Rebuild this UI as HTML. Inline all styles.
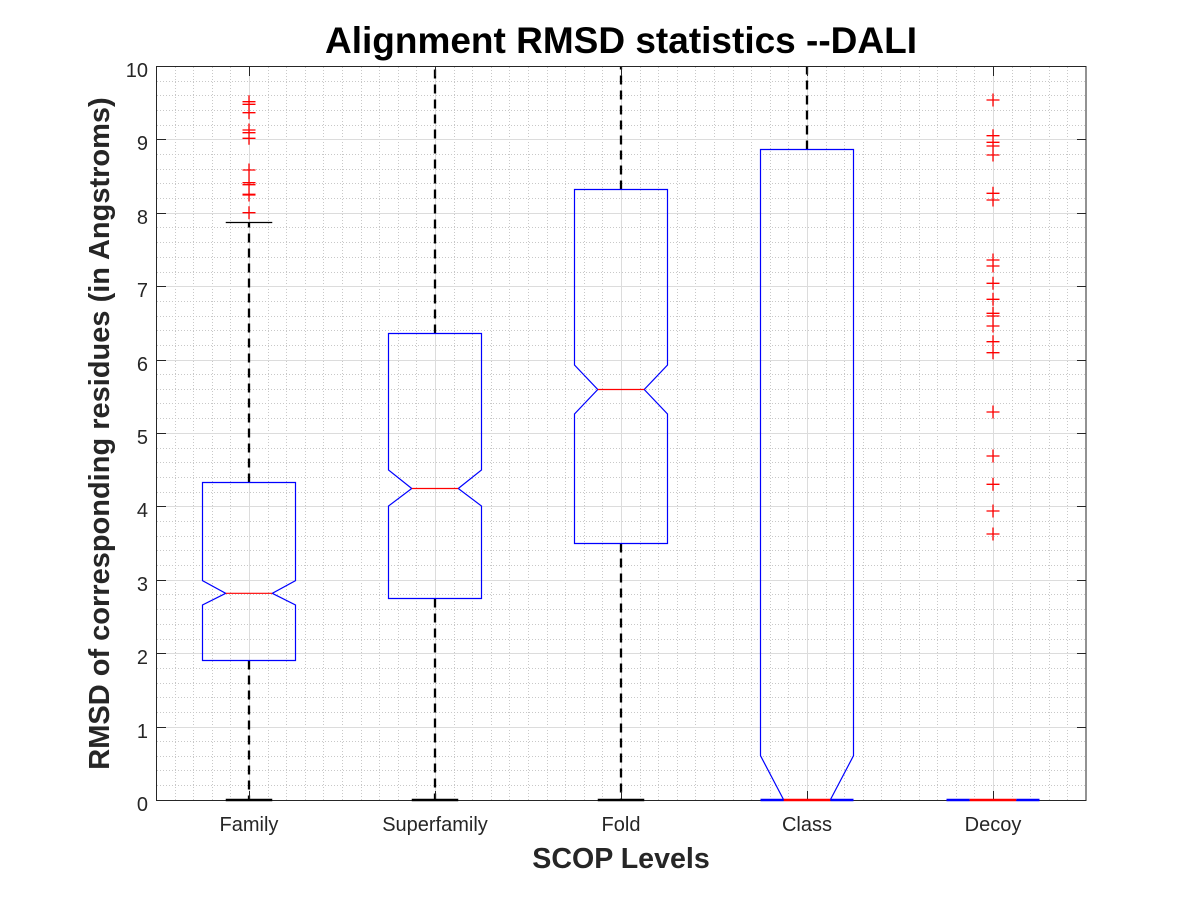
<!DOCTYPE html>
<html>
<head>
<meta charset="utf-8">
<style>
  html, body { margin:0; padding:0; background:#ffffff; }
  svg { display:block; }
  text { font-family: "Liberation Sans", Arial, sans-serif; }
</style>
</head>
<body>
<svg width="1200" height="900" viewBox="0 0 1200 900" xmlns="http://www.w3.org/2000/svg">
  <rect x="0" y="0" width="1200" height="900" fill="#ffffff"/>
  <rect x="156.5" y="66.5" width="929.5" height="734" fill="#ffffff"/>

  <!-- minor grid vertical -->
  <path stroke="#c8c8c8" stroke-width="1" stroke-dasharray="1 2" fill="none" d="
    M175.5,67 V800 M193.5,67 V800 M212.5,67 V800 M230.5,67 V800 M268.5,67 V800 M286.5,67 V800 M305.5,67 V800 M323.5,67 V800 M342.5,67 V800
    M361.5,67 V800 M379.5,67 V800 M398.5,67 V800 M416.5,67 V800 M454.5,67 V800 M472.5,67 V800 M491.5,67 V800 M509.5,67 V800 M528.5,67 V800
    M547.5,67 V800 M565.5,67 V800 M584.5,67 V800 M602.5,67 V800 M640.5,67 V800 M658.5,67 V800 M677.5,67 V800 M695.5,67 V800 M714.5,67 V800
    M733.5,67 V800 M751.5,67 V800 M770.5,67 V800 M788.5,67 V800 M826.5,67 V800 M844.5,67 V800 M863.5,67 V800 M881.5,67 V800 M900.5,67 V800
    M919.5,67 V800 M937.5,67 V800 M956.5,67 V800 M974.5,67 V800 M1012.5,67 V800 M1030.5,67 V800 M1049.5,67 V800 M1067.5,67 V800"/>
  <!-- minor grid horizontal -->
  <path stroke="#c8c8c8" stroke-width="1" stroke-dasharray="1 2" fill="none" d="
    M157,785.5 H1086 M157,770.5 H1086 M157,756.5 H1086 M157,741.5 H1086
    M157,712.5 H1086 M157,697.5 H1086 M157,683.5 H1086 M157,668.5 H1086
    M157,639.5 H1086 M157,624.5 H1086 M157,609.5 H1086 M157,594.5 H1086
    M157,565.5 H1086 M157,550.5 H1086 M157,536.5 H1086 M157,521.5 H1086
    M157,492.5 H1086 M157,477.5 H1086 M157,462.5 H1086 M157,448.5 H1086
    M157,418.5 H1086 M157,403.5 H1086 M157,389.5 H1086 M157,374.5 H1086
    M157,345.5 H1086 M157,330.5 H1086 M157,316.5 H1086 M157,301.5 H1086
    M157,272.5 H1086 M157,257.5 H1086 M157,242.5 H1086 M157,227.5 H1086
    M157,198.5 H1086 M157,183.5 H1086 M157,169.5 H1086 M157,154.5 H1086
    M157,125.5 H1086 M157,110.5 H1086 M157,95.5 H1086 M157,81.5 H1086"/>
  <!-- major grid -->
  <path stroke="#dcdcdc" stroke-width="1" fill="none" d="
    M249.5,67 V800 M435.5,67 V800 M621.5,67 V800 M807.5,67 V800 M993.5,67 V800
    M157,727.5 H1086 M157,653.5 H1086 M157,580.5 H1086 M157,506.5 H1086 M157,433.5 H1086
    M157,360.5 H1086 M157,286.5 H1086 M157,213.5 H1086 M157,139.5 H1086"/>

  <!-- whiskers (dashed) -->
  <g stroke="#000000" stroke-width="2.3" stroke-dasharray="9 6" fill="none">
    <path d="M249,482.5 V222.5"/>
    <path d="M249,660.5 V800"/>
    <path d="M435,333.5 V66.5"/>
    <path d="M435,598.5 V800"/>
    <path d="M621,189.5 V66.5"/>
    <path d="M621,543.5 V800"/>
    <path d="M807,149.5 V66.5"/>
  </g>
  <!-- upper cap -->
  <path d="M225.75,222.5 H272.25" stroke="#000000" stroke-width="1.3" fill="none"/>

  <!-- boxes -->
  <g stroke="#0000ff" stroke-width="1.2" fill="none">
    <path d="M202.5,482.5 H295.5 V580.7 L272.25,593.3 L295.5,605 V660.5 H202.5 V605 L225.75,593.3 L202.5,580.7 Z"/>
    <path d="M388.5,333.5 H481.5 V470 L458.25,488.5 L481.5,506 V598.5 H388.5 V506 L411.75,488.5 L388.5,470 Z"/>
    <path d="M574.5,189.5 H667.5 V365 L644.25,389.5 L667.5,414 V543.5 H574.5 V414 L597.75,389.5 L574.5,365 Z"/>
    <path d="M783.75,800 L760.5,755.7 V149.5 H853.5 V755.7 L830.25,800"/>
  </g>
  <!-- medians -->
  <g stroke="#ff0000" stroke-width="1.2" fill="none">
    <path d="M225.75,593.3 H272.25"/>
    <path d="M411.75,488.5 H458.25"/>
    <path d="M597.75,389.5 H644.25"/>
  </g>

  <!-- outliers -->
  <g stroke="#ff0000" stroke-width="1.3" fill="none">
    <path d="
      M242.5,101.7 h13 M249,95.2 v13
      M242.5,104.3 h13 M249,97.8 v13
      M242.5,112.7 h13 M249,106.2 v13
      M242.5,130 h13 M249,123.5 v13
      M242.5,132.7 h13 M249,126.2 v13
      M242.5,138.3 h13 M249,131.8 v13
      M242.5,170 h13 M249,163.5 v13
      M242.5,182.7 h13 M249,176.2 v13
      M242.5,184.7 h13 M249,178.2 v13
      M242.5,194.3 h13 M249,187.8 v13
      M242.5,195 h13 M249,188.5 v13
      M242.5,212.7 h13 M249,206.2 v13"/>
    <path d="
      M986.5,100 h13 M993,93.5 v13
      M986.5,135.7 h13 M993,129.2 v13
      M986.5,142.3 h13 M993,135.8 v13
      M986.5,146 h13 M993,139.5 v13
      M986.5,155 h13 M993,148.5 v13
      M986.5,193.3 h13 M993,186.8 v13
      M986.5,200 h13 M993,193.5 v13
      M986.5,260 h13 M993,253.5 v13
      M986.5,266 h13 M993,259.5 v13
      M986.5,283.3 h13 M993,276.8 v13
      M986.5,299.3 h13 M993,292.8 v13
      M986.5,313.3 h13 M993,306.8 v13
      M986.5,316 h13 M993,309.5 v13
      M986.5,326 h13 M993,319.5 v13
      M986.5,341.7 h13 M993,335.2 v13
      M986.5,352.7 h13 M993,346.2 v13
      M986.5,412 h13 M993,405.5 v13
      M986.5,456 h13 M993,449.5 v13
      M986.5,484.3 h13 M993,477.8 v13
      M986.5,511 h13 M993,504.5 v13
      M986.5,534 h13 M993,527.5 v13"/>
  </g>

  <!-- axes box -->
  <rect x="156.5" y="66.5" width="929.5" height="734" fill="none" stroke="#262626" stroke-width="1"/>
  <!-- ticks -->
  <path stroke="#262626" stroke-width="1" fill="none" d="
    M157,727.5 h9 M157,653.5 h9 M157,580.5 h9 M157,506.5 h9 M157,433.5 h9 M157,360.5 h9 M157,286.5 h9 M157,213.5 h9 M157,139.5 h9
    M1086,727.5 h-9 M1086,653.5 h-9 M1086,580.5 h-9 M1086,506.5 h-9 M1086,433.5 h-9 M1086,360.5 h-9 M1086,286.5 h-9 M1086,213.5 h-9 M1086,139.5 h-9
    M249.5,800 v-9 M435.5,800 v-9 M621.5,800 v-9 M807.5,800 v-9 M993.5,800 v-9
    M249.5,67 v9 M435.5,67 v9 M621.5,67 v9 M807.5,67 v9 M993.5,67 v9"/>

  <!-- bottom lines drawn above the axis -->
  <g stroke="#000000" stroke-width="2.6" fill="none">
    <path d="M225.75,800 H272.25"/>
    <path d="M411.75,800 H458.25"/>
    <path d="M597.75,800 H644.25"/>
  </g>
  <g stroke="#0000ff" stroke-width="2.4" fill="none">
    <path d="M760.5,800 H783.75 M830.25,800 H853.5"/>
    <path d="M946.5,800 H969.75 M1016.25,800 H1039.5"/>
  </g>
  <g stroke="#ff0000" stroke-width="2.4" fill="none">
    <path d="M783.75,800 H830.25"/>
    <path d="M969.75,800 H1016.25"/>
  </g>

  <!-- y tick labels -->
  <g font-size="20" fill="#262626" text-anchor="end">
    <text x="148" y="811">0</text>
    <text x="148" y="738">1</text>
    <text x="148" y="664">2</text>
    <text x="148" y="591">3</text>
    <text x="148" y="517">4</text>
    <text x="148" y="444">5</text>
    <text x="148" y="371">6</text>
    <text x="148" y="297">7</text>
    <text x="148" y="224">8</text>
    <text x="148" y="150">9</text>
    <text x="148" y="77">10</text>
  </g>
  <!-- x tick labels -->
  <g font-size="20" fill="#262626" text-anchor="middle">
    <text x="249" y="831">Family</text>
    <text x="435" y="831">Superfamily</text>
    <text x="621" y="831">Fold</text>
    <text x="807" y="831">Class</text>
    <text x="993" y="831">Decoy</text>
  </g>

  <!-- axis labels -->
  <text x="621" y="868" font-size="28.6" font-weight="bold" fill="#262626" text-anchor="middle">SCOP Levels</text>
  <text transform="translate(109,433.5) rotate(-90)" x="0" y="0" font-size="29" font-weight="bold" fill="#262626" text-anchor="middle">RMSD of corresponding residues (in Angstroms)</text>

  <!-- title -->
  <text x="621" y="53" font-size="37" font-weight="bold" fill="#000000" text-anchor="middle">Alignment RMSD statistics --DALI</text>
</svg>
</body>
</html>
